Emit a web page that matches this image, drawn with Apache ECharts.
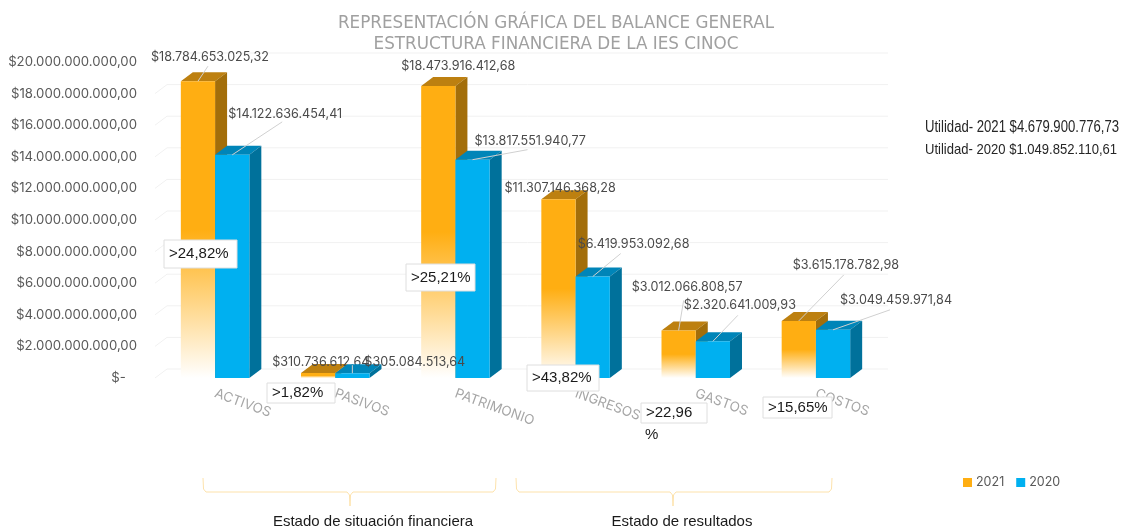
<!DOCTYPE html>
<html>
<head>
<meta charset="utf-8">
<title>Balance general</title>
<script src="https://cdn.jsdelivr.net/npm/echarts@6/dist/echarts.min.js"></script>
<style>
  html, body { margin: 0; background: #fff; }
  #chart { width: 1125px; height: 530px; }
</style>
</head>
<body>
<div id="chart"></div>
<script>
// datos
const categories = ["ACTIVOS", "PASIVOS", "PATRIMONIO", "INGRESOS", "GASTOS", "COSTOS"];
const values2021 = [18784653025.32, 310736612.64, 18473916412.68, 11307146368.28, 3012066808.57, 3615178782.98];
const values2020 = [14122636454.41, 305084513.64, 13817551940.77, 6419953092.68, 2320641009.93, 3049459971.84];
const tickValues = [0, 2e9, 4e9, 6e9, 8e9, 10e9, 12e9, 14e9, 16e9, 18e9, 20e9];
const percentLabels = [">24,82%", ">1,82%", ">25,21%", ">43,82%", ">22,96", ">15,65%"];
const utilidades = ["Utilidad- 2021 $4.679.900.776,73", "Utilidad- 2020 $1.049.852.110,61"];

// posicion de etiquetas respecto a la cara frontal de cada barra: [dx, dy]
const labelOffset2021 = [[-47, -24], [-46, -11], [-37, -20], [-54, -11], [-47, -43], [-6, -56]];
const labelOffset2020 = [[-4, -41], [12, -11], [2, -18], [-15, -32], [-29, -36], [7, -30]];
// final de la linea guia, null si no tiene
const leaderEnd2021 = [[10, -15], null, null, null, [5, -30], [45, -46]];
const leaderEnd2020 = [[50, -33], [0, -8], [55, -10], [28, -23], [25, -26], [57, -20]];
// cajas de porcentaje: [x, y, ancho, alto]
const percentBoxes = [[164, 240, 73, 28], [267, 383, 68, 20], [406, 264, 69, 27], [527, 365, 72, 26], [641, 403, 66, 20], [763, 397, 69, 21]];

const DEPTH_X = 12;
const DEPTH_Y = 9;
const labelFont = "Inter";
const chart = echarts.init(document.getElementById("chart"));

// formato moneda 1.234,56
const money = (v) => {
  const parts = v.toFixed(2).split(".");
  return "$" + parts[0].replace(/\B(?=(\d{3})+(?!\d))/g, ".") + "," + parts[1];
};

// barra en 3D: cara frontal, superior y lateral
const makeBar = (colors, side, offsets, leaders) => (params, api) => {
  const idx = api.value(0);
  const val = api.value(1);
  const band = api.size([1, 0])[0];
  const w = band * 0.285;
  const center = api.coord([idx, 0])[0];
  const x0 = side < 0 ? center - w : center;
  const x1 = x0 + w;
  const yTop = api.coord([idx, val])[1];
  const yBase = api.coord([idx, 0])[1];
  const ax = (x0 + x1) / 2;
  const children = [
    {
      type: "polygon",
      shape: { points: [[x0, yTop], [x0 + DEPTH_X, yTop - DEPTH_Y], [x1 + DEPTH_X, yTop - DEPTH_Y], [x1, yTop]] },
      style: { fill: colors.top }
    },
    {
      type: "polygon",
      shape: { points: [[x1, yTop], [x1 + DEPTH_X, yTop - DEPTH_Y], [x1 + DEPTH_X, yBase - DEPTH_Y], [x1, yBase]] },
      style: { fill: colors.side }
    },
    {
      type: "rect",
      shape: { x: x0, y: yTop, width: w, height: yBase - yTop },
      style: { fill: colors.front }
    }
  ];
  if (leaders[idx]) {
    children.push({
      type: "line",
      z2: 90,
      shape: { x1: ax, y1: yTop, x2: ax + leaders[idx][0], y2: yTop + leaders[idx][1] },
      style: { stroke: "#d0d0d0", lineWidth: 1 }
    });
  }
  // texto por encima de las barras vecinas
  children.push({
    type: "text",
    z2: 100,
    x: ax + offsets[idx][0],
    y: yTop + offsets[idx][1],
    style: {
      text: money(val),
      fill: "#4a4a4a",
      font: "12.6px " + labelFont,
      align: "left",
      verticalAlign: "middle"
    }
  });
  return { type: "group", children };
};

// lineas de fondo con su tramo inclinado
const renderWall = (params, api) => {
  const y = api.coord([0, api.value(0)])[1];
  const x = params.coordSys.x;
  const r = x + params.coordSys.width + DEPTH_X;
  return {
    type: "polyline",
    shape: { points: [[x, y], [x + DEPTH_X, y - DEPTH_Y], [r, y - DEPTH_Y]] },
    style: { stroke: "#f1f1f1", lineWidth: 1, fill: null }
  };
};

const fade = (color) => new echarts.graphic.LinearGradient(0, 0, 0, 1, [
  { offset: 0, color: color },
  { offset: 0.5, color: color },
  { offset: 1, color: "#ffffff" }
]);

// llave inferior
const brace = (l, r, tip, top, mid, bottom) => [
  [l, top], [l + 0.5, mid - 3], [l + 3, mid], [tip - 3, mid], [tip - 0.5, mid + 3], [tip, bottom],
  [tip + 0.5, mid + 3], [tip + 3, mid], [r - 3, mid], [r - 0.5, mid - 3], [r, top]
];

const graphics = [];
percentLabels.forEach((txt, i) => {
  const b = percentBoxes[i];
  graphics.push({
    type: "rect", z: 50,
    shape: { x: b[0], y: b[1], width: b[2], height: b[3] },
    style: { fill: "#fff", stroke: "#dedede", lineWidth: 1 }
  });
  graphics.push({
    type: "text", z: 51, x: b[0] + 5, y: b[1] + b[3] / 2,
    style: { text: txt, fill: "#1a1a1a", font: "15px 'Liberation Sans'", align: "left", verticalAlign: "middle" }
  });
});
graphics.push({
  type: "text", z: 51, x: 645, y: 435,
  style: { text: "%", fill: "#1a1a1a", font: "15px 'Liberation Sans'", verticalAlign: "middle" }
});
graphics.push({
  type: "polyline", shape: { points: brace(203, 496, 350, 478, 492, 506) },
  style: { fill: null, stroke: "#fde2ab", lineWidth: 1 }
});
graphics.push({
  type: "polyline", shape: { points: brace(516, 832, 673, 478, 492, 506) },
  style: { fill: null, stroke: "#fde2ab", lineWidth: 1 }
});
graphics.push({
  type: "text", x: 373, y: 522,
  style: { text: "Estado de situación financiera", fill: "#1a1a1a", font: "15px 'Liberation Sans'", align: "center", verticalAlign: "middle" }
});
graphics.push({
  type: "text", x: 682, y: 522,
  style: { text: "Estado de resultados", fill: "#1a1a1a", font: "15px 'Liberation Sans'", align: "center", verticalAlign: "middle" }
});
// Liberation Sans comprimida para imitar la fuente estrecha
graphics.push({
  type: "text", x: 925, y: 128, scaleX: 0.82,
  style: { text: utilidades[0], fill: "#262626", font: "16px 'Liberation Sans'", verticalAlign: "middle" }
});
graphics.push({
  type: "text", x: 925, y: 150, scaleX: 0.9,
  style: { text: utilidades[1], fill: "#262626", font: "14.5px 'Liberation Sans'", verticalAlign: "middle" }
});

const option = {
  animation: false,
  title: {
    text: "REPRESENTACIÓN GRÁFICA DEL BALANCE GENERAL\nESTRUCTURA FINANCIERA DE LA IES CINOC",
    left: 551,
    top: 8,
    textAlign: "center",
    textStyle: { color: "#a0a0a0", fontSize: 16.8, fontWeight: "normal", fontFamily: "DejaVu Sans", lineHeight: 21 }
  },
  legend: {
    left: 958,
    top: 471,
    itemWidth: 9,
    itemHeight: 9,
    itemGap: 12,
    icon: "rect",
    textStyle: { color: "#595959", fontSize: 12.5, fontFamily: labelFont, padding: [0, 0, 0, -1] },
    data: ["2021", "2020"]
  },
  grid: { left: 155, right: 249, top: 62, bottom: 152 },
  xAxis: {
    type: "category",
    data: categories,
    axisLine: { show: false },
    axisTick: { show: false },
    axisLabel: { rotate: -20, margin: 15, color: "#a6a6a6", fontSize: 13.5, fontFamily: labelFont, interval: 0 }
  },
  yAxis: {
    type: "value",
    min: 0,
    max: 20e9,
    interval: 2e9,
    splitLine: { show: false },
    axisLine: { show: false },
    axisTick: { show: false },
    axisLabel: {
      margin: 18,
      color: "#595959",
      fontSize: 13.2,
      fontFamily: labelFont,
      formatter: (v) => (v === 0 ? "$-   " : money(v))
    }
  },
  series: [
    {
      type: "custom",
      name: "fondo",
      renderItem: renderWall,
      encode: { y: 0 },
      data: tickValues.map((v) => [v]),
      silent: true,
      z: 1
    },
    {
      type: "custom",
      name: "2021",
      renderItem: makeBar({ front: fade("#FFAE12"), top: "#BD8010", side: "#A36E0A" }, -1, labelOffset2021, leaderEnd2021),
      encode: { x: 0, y: 1 },
      itemStyle: { color: "#FFAE12" },
      data: values2021.map((v, i) => [i, v]),
      z: 2
    },
    {
      type: "custom",
      name: "2020",
      renderItem: makeBar({ front: "#00B0F0", top: "#0085B8", side: "#00719B" }, 1, labelOffset2020, leaderEnd2020),
      encode: { x: 0, y: 1 },
      itemStyle: { color: "#00B0F0" },
      data: values2020.map((v, i) => [i, v]),
      z: 3
    }
  ],
  graphic: { elements: graphics }
};
chart.setOption(option);
</script>
</body>
</html>
